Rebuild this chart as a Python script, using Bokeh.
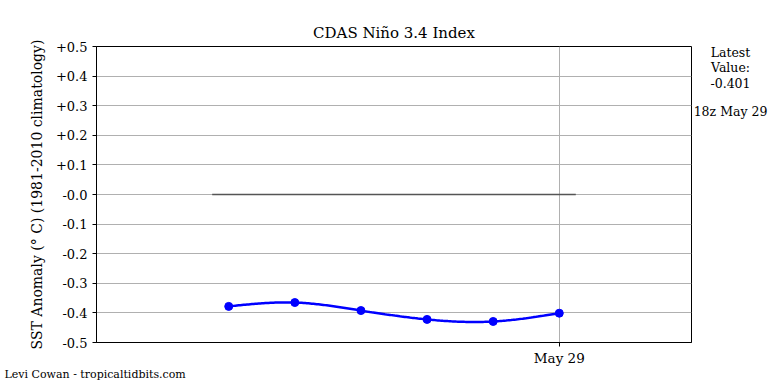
import numpy as np
from datetime import datetime
from bokeh.plotting import figure
from bokeh.layouts import row
from bokeh.models import Label, Title, FixedTicker, DatetimeTickFormatter, Range1d
from bokeh.embed import file_html
from bokeh.resources import INLINE

# ---- data ----
dates = ["2024-05-24", "2024-05-25", "2024-05-26", "2024-05-27", "2024-05-28", "2024-05-29"]
values = [-0.378, -0.365, -0.392, -0.422, -0.429, -0.401]
y_ticks = [-0.5, -0.4, -0.3, -0.2, -0.1, 0.0, 0.1, 0.2, 0.3, 0.4, 0.5]
y_tick_labels = ["-0.5", "-0.4", "-0.3", "-0.2", "-0.1", "-0.0", "+0.1", "+0.2", "+0.3", "+0.4", "+0.5"]
latest_value = -0.401
latest_time = "18z May 29"
x_start = "2024-05-22"
x_end = "2024-05-31"

FONT = "DejaVu Serif"

dts = [datetime.fromisoformat(d) for d in dates]
ms = np.array([d.timestamp() * 1000 for d in dts])
day_ms = 86400000.0

# natural cubic spline through the data points (rendering of the curve)
def natural_spline(x, y, n=200):
    x = np.asarray(x, float); y = np.asarray(y, float)
    k = len(x)
    h = np.diff(x)
    A = np.zeros((k, k)); b = np.zeros(k)
    A[0, 0] = 1; A[-1, -1] = 1
    for i in range(1, k - 1):
        A[i, i - 1] = h[i - 1]
        A[i, i] = 2 * (h[i - 1] + h[i])
        A[i, i + 1] = h[i]
        b[i] = 3 * ((y[i + 1] - y[i]) / h[i] - (y[i] - y[i - 1]) / h[i - 1])
    c = np.linalg.solve(A, b)
    xs = np.linspace(x[0], x[-1], n)
    ys = np.empty_like(xs)
    for j, xv in enumerate(xs):
        i = min(np.searchsorted(x, xv, side="right") - 1, k - 2)
        bi = (y[i + 1] - y[i]) / h[i] - h[i] * (2 * c[i] + c[i + 1]) / 3
        di = (c[i + 1] - c[i]) / (3 * h[i])
        t = xv - x[i]
        ys[j] = y[i] + bi * t + c[i] * t * t + di * t ** 3
    return xs, ys

xd = (ms - ms[0]) / day_ms
sx, sy = natural_spline(xd, values)
sx_ms = ms[0] + sx * day_ms

p = figure(width=693, height=384, output_backend="svg", toolbar_location=None,
           x_axis_type="datetime",
           x_range=Range1d(datetime.fromisoformat(x_start), datetime.fromisoformat(x_end)),
           y_range=Range1d(-0.5, 0.5),
           min_border_left=96, min_border_right=2, min_border_top=46, min_border_bottom=42)

p.title.text = "CDAS Niño 3.4 Index"
p.title.align = "center"
p.title.text_font = FONT
p.title.text_font_size = "15px"
p.title.text_font_style = "normal"
p.title.text_color = "black"

p.outline_line_color = "black"
p.outline_line_alpha = 1.0

# y axis
p.yaxis.ticker = FixedTicker(ticks=y_ticks)
p.yaxis.major_label_overrides = {t: l for t, l in zip(y_ticks, y_tick_labels)}
p.yaxis.major_label_text_font = FONT
p.yaxis.major_label_text_font_size = "13px"
p.yaxis.major_label_text_color = "black"
p.yaxis.axis_label = "SST Anomaly (° C) (1981-2010 climatology)"
p.yaxis.axis_label_text_font = FONT
p.yaxis.axis_label_text_font_size = "14px"
p.yaxis.axis_label_text_font_style = "normal"
p.yaxis.axis_label_text_color = "black"
p.yaxis.axis_label_standoff = 8
p.yaxis.minor_tick_line_color = None
p.yaxis.major_tick_out = 4
p.yaxis.major_tick_in = 0
p.yaxis.axis_line_color = "black"

# x axis
p.xaxis.ticker = FixedTicker(ticks=[ms[-1]])
p.xaxis.formatter = DatetimeTickFormatter(days="%b %d", months="%b %d", hours="%b %d",
                                          years="%b %d", minutes="%b %d", seconds="%b %d",
                                          milliseconds="%b %d", minsec="%b %d", hourmin="%b %d")
p.xaxis.major_label_text_font = FONT
p.xaxis.major_label_text_font_size = "13.5px"
p.xaxis.major_label_text_color = "black"
p.xaxis.minor_tick_line_color = None
p.xaxis.major_tick_out = 4
p.xaxis.major_tick_in = 0
p.xaxis.major_label_standoff = 3

p.grid.grid_line_color = "#b0b0b0"
p.grid.grid_line_width = 1

# zero line
zx = [ms[0] - 0.25 * day_ms, ms[-1] + 0.25 * day_ms]
p.line(zx, [0, 0], line_color="#555555", line_width=1.5)

# data curve
p.line(sx_ms, sy, line_color="blue", line_width=2.5)
p.scatter(ms, values, size=8, fill_color="blue", line_color="blue")

# footer credit
p.add_layout(Title(text="Levi Cowan - tropicaltidbits.com", align="left", offset=-92,
                   standoff=-6, text_font=FONT, text_font_size="11px",
                   text_font_style="normal", text_color="black"), "below")

# side panel with latest value text (frame is aligned with the main frame)
side = figure(width=75, height=384, output_backend="svg", toolbar_location=None,
              x_axis_type=None, y_axis_type=None,
              x_range=Range1d(0, 1), y_range=Range1d(0, 1),
              min_border_left=0, min_border_right=0, min_border_top=0, min_border_bottom=0)
side.outline_line_color = None
side.grid.visible = False
for i, txt in enumerate(["Latest", "Value:", "%.3f" % latest_value]):
    side.add_layout(Label(x=37, y=290 - i * 15, x_units="screen", y_units="screen",
                          text=txt, text_align="center", text_baseline="middle",
                          text_font=FONT, text_font_size="12.5px", text_color="black"))
side.add_layout(Label(x=37, y=231, x_units="screen", y_units="screen",
                      text=latest_time, text_align="center", text_baseline="middle",
                      text_font=FONT, text_font_size="12.5px", text_color="black"))

layout = row(p, side, spacing=0)
open("out.html", "w").write(file_html(layout, INLINE))
